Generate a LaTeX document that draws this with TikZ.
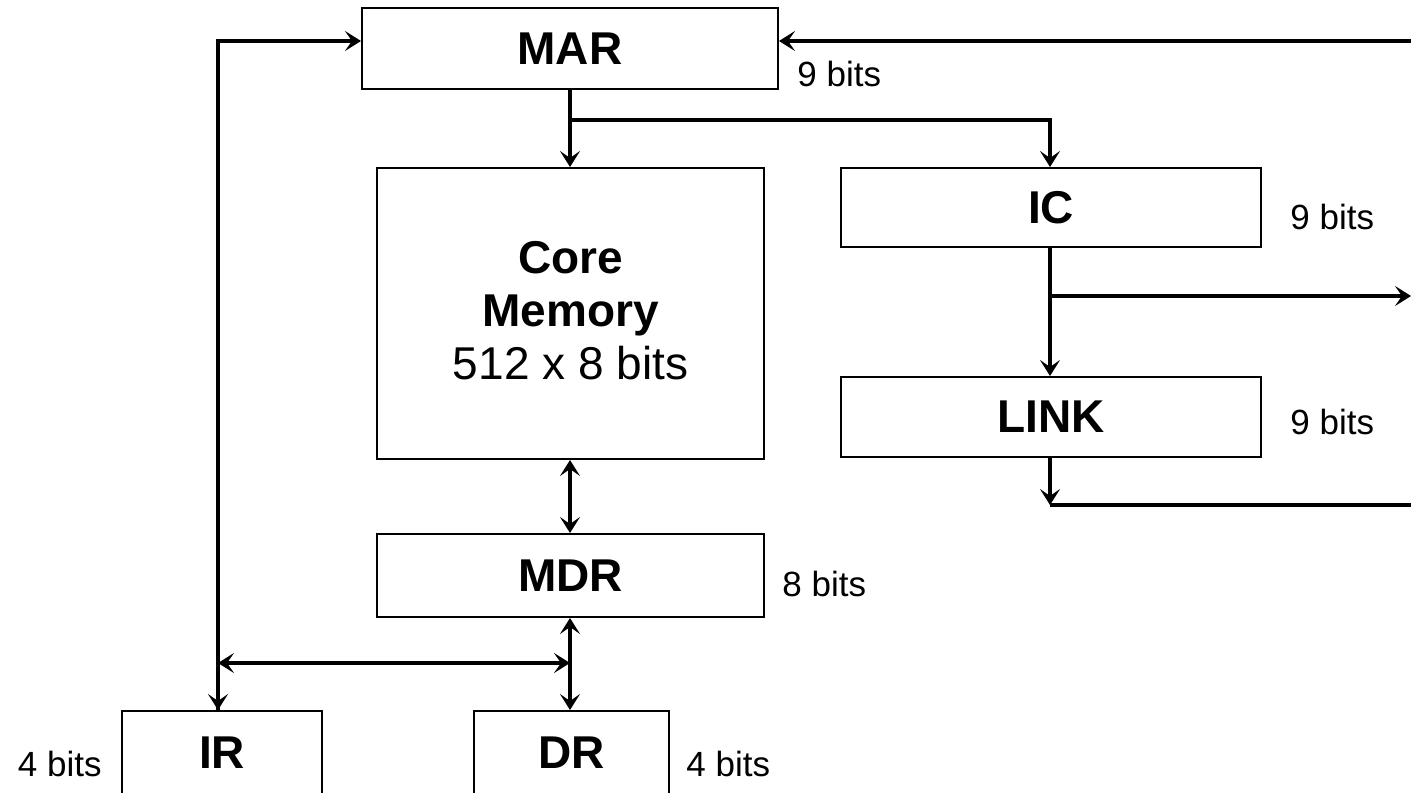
\documentclass[tikz,border=0pt]{standalone}
\usepackage{fontspec}
\setmainfont{Liberation Sans}
\usetikzlibrary{arrows.meta}
\begin{document}
\begin{tikzpicture}[x=0.5pt,y=-0.5pt,
  box/.style={draw,line width=1pt,inner sep=0pt,anchor=north west},
  bus/.style={line width=2.4pt},
  tip/.tip={Stealth[length=8pt,width=10pt,inset=3.5pt]},
  arr/.style={bus,-tip},
  darr/.style={bus,tip-tip},
  bigl/.style={font=\fontsize{23}{27}\selectfont\bfseries},
  lbl/.style={font=\fontsize{17.5}{21}\selectfont,inner sep=0pt}]
\useasboundingbox (0,0) rectangle (1411,792);
% boxes
\node[box,minimum width=208pt,minimum height=40.5pt] (mar) at (361,7) {};
\node[bigl] at (mar.center) {MAR};
\node[box,minimum width=193.5pt,minimum height=145.5pt] (core) at (376,167) {};
\node[align=center,font=\fontsize{23}{26.5}\selectfont] at ([yshift=1.5pt]core.center) {\textbf{Core}\\\textbf{Memory}\\512 x 8 bits};
\node[box,minimum width=210pt,minimum height=39.5pt] (ic) at (840,167) {};
\node[bigl] at (ic.center) {IC};
\node[box,minimum width=210pt,minimum height=40pt] (link) at (840,376) {};
\node[bigl] at (link.center) {LINK};
\node[box,minimum width=193.5pt,minimum height=41.5pt] (mdr) at (376,533) {};
\node[bigl] at (mdr.center) {MDR};
\node[box,minimum width=100pt,minimum height=42pt] (ir) at (121,710) {};
\node[bigl] at (ir.center) {IR};
\node[box,minimum width=97.5pt,minimum height=42pt] (dr) at (473,710) {};
\node[bigl] at (dr.center) {DR};
% labels
\node[lbl,anchor=base west] (l1) at (797,87) {9 bits};
\node[lbl,anchor=base west] (l2) at (1290,229) {9 bits};
\node[lbl,anchor=base west] (l3) at (1290,434) {9 bits};
\node[lbl,anchor=base west] (l4) at (782,596) {8 bits};
\node[lbl,anchor=base east] (l5) at (102,776) {4 bits};
\node[lbl,anchor=base west] (l6) at (686,776) {4 bits};
% coordinates
\coordinate (lt) at (218,41);
\coordinate (rin) at (1411,41);
\coordinate (br1) at (570,120);
\coordinate (br1r) at (1050,120);
\coordinate (br2) at (1050,296);
\coordinate (out2) at (1411,296);
\coordinate (lk) at (1050,505);
\coordinate (lkr) at (1411,505);
\coordinate (hb) at (218,663);
\coordinate (hbr) at (570,663);
% connectors
\draw[arr] (rin) -- (mar.east |- rin);
\draw[arr,line join=miter] (ir.north -| lt) -- (lt) -- (mar.west |- lt);
\draw[arr] (lt) -- (ir.north -| lt);
\draw[arr] (mar.south -| br1) -- (core.north -| br1);
\draw[arr,line join=miter] (br1) -- (br1r) -- (ic.north -| br1r);
\draw[arr] (ic.south -| br2) -- (link.north -| br2);
\draw[arr] (br2) -- (out2);
\draw[arr] (link.south -| lk) -- (lk);
\draw[bus] (lk) -- (lkr);
\draw[darr] (core.south -| br1) -- (mdr.north -| br1);
\draw[darr] (mdr.south -| br1) -- (dr.north -| br1);
\draw[darr] (hb) -- (hbr);
\end{tikzpicture}
\end{document}
